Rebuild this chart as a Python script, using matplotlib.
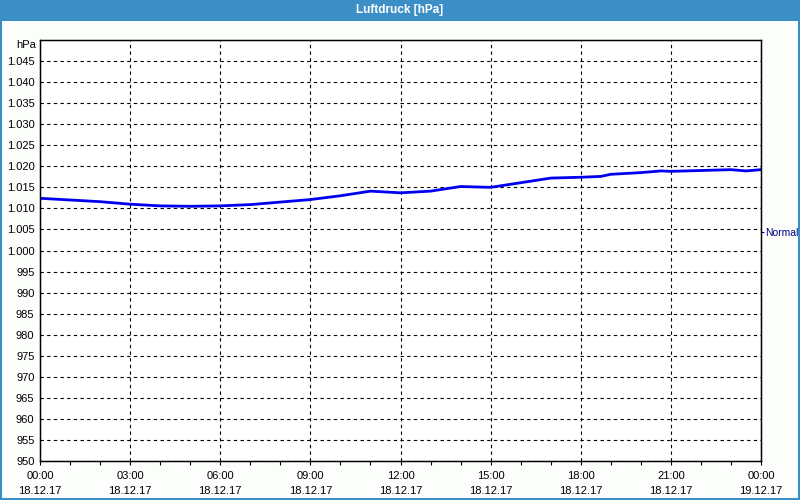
import matplotlib.pyplot as plt
import numpy as np
from matplotlib.patches import Rectangle

plt.rcParams["font.family"] = ["Liberation Sans", "DejaVu Sans"]

# Luftdruck-Verlauf 18.12.17 (Stunden ab 00:00)
hours = [0, 1, 2, 3, 4, 5, 6, 7, 8, 9, 10, 11, 12, 13, 14, 15, 16, 17, 18,
         18.67, 19, 20, 20.67, 21, 22, 23, 23.5, 24]
pressure = [1012.4, 1012.0, 1011.6, 1011.0, 1010.6, 1010.5, 1010.6, 1010.9,
            1011.5, 1012.1, 1013.0, 1014.1, 1013.7, 1014.1, 1015.2, 1015.0,
            1016.1, 1017.2, 1017.4, 1017.6, 1018.1, 1018.5, 1018.9, 1018.8,
            1019.0, 1019.2, 1018.9, 1019.2]

tick_hours = [0, 3, 6, 9, 12, 15, 18, 21, 24]
tick_labels = ["00:00\n18.12.17", "03:00\n18.12.17", "06:00\n18.12.17",
               "09:00\n18.12.17", "12:00\n18.12.17", "15:00\n18.12.17",
               "18:00\n18.12.17", "21:00\n18.12.17", "00:00\n19.12.17"]
y_ticks = list(range(950, 1050, 5))
normal_level = 1004.3

blue = "#3c8fc6"

fig = plt.figure(figsize=(8, 5), dpi=100, facecolor="#fcfefc")
# Titelleiste und Rahmen
fig.patches.append(Rectangle((0, 0.958), 1, 0.042, transform=fig.transFigure,
                             facecolor=blue, edgecolor="none", zorder=0))
fig.patches.append(Rectangle((0.001, 0.002), 0.998, 0.997, transform=fig.transFigure,
                             facecolor="none", edgecolor=blue, linewidth=1.5, zorder=1))
fig.text(0.5, 0.979, "Luftdruck [hPa]", color="white", fontsize=8.5,
         fontweight="bold", ha="center", va="center")

ax = fig.add_axes([0.05, 0.078, 0.90125, 0.842])
ax.set_facecolor("white")
ax.plot(hours, pressure, color="#0000ee", linewidth=2)

ax.set_xlim(0, 24)
ax.set_ylim(950, 1050)
ax.set_xticks(tick_hours)
ax.set_xticklabels(tick_labels, linespacing=1.6)
ax.set_xticks(np.arange(0, 25, 1), minor=True)
ax.set_yticks(y_ticks)
ax.set_yticklabels([f"{v:,}".replace(",", ".") for v in y_ticks])

ax.grid(True, which="major", color="black", linestyle=(0, (3, 3)), linewidth=0.8)
ax.tick_params(axis="x", which="both", direction="out", length=3, width=0.8,
               labelsize=8, pad=4)
ax.tick_params(axis="y", length=0, labelsize=8, pad=4)
for s in ax.spines.values():
    s.set_linewidth(1)

ax.text(-0.005, 1048.8, "hPa", transform=ax.get_yaxis_transform(),
        ha="right", va="center", fontsize=8)

ax2 = ax.twinx()
ax2.set_ylim(950, 1050)
ax2.set_yticks([normal_level])
ax2.set_yticklabels(["Normal"])
ax2.tick_params(axis="y", direction="out", length=2, width=0.8, colors="#000080",
                labelsize=7.5, pad=1)

fig.savefig("out.png", dpi=100, facecolor=fig.get_facecolor())
